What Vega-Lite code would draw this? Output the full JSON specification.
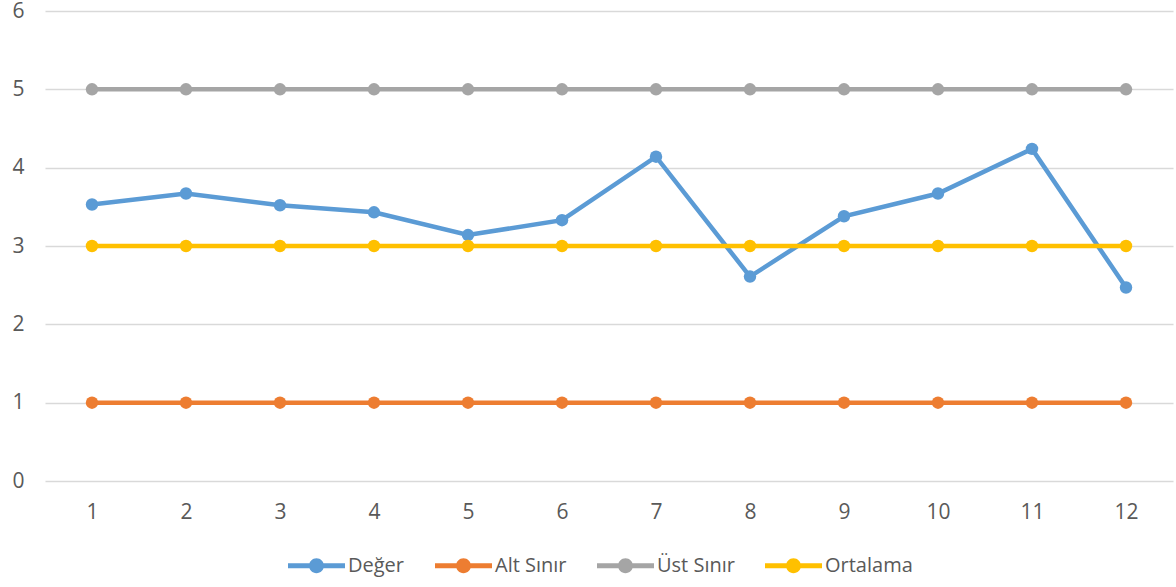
{
  "$schema": "https://vega.github.io/schema/vega-lite/v6.json",
  "width": 1128,
  "height": 470,
  "autosize": "none",
  "padding": {"left": 45, "top": 11, "right": 3, "bottom": 106},
  "background": "white",
  "config": {
    "view": {"stroke": null},
    "font": "Open Sans",
    "axis": {"labelColor": "#595959", "labelFontSize": 21, "domain": false, "ticks": false, "title": null}
  },
  "data": {
    "values": [
      {"x": 1, "series": "Değer", "value": 3.53},
      {"x": 2, "series": "Değer", "value": 3.67},
      {"x": 3, "series": "Değer", "value": 3.52},
      {"x": 4, "series": "Değer", "value": 3.43},
      {"x": 5, "series": "Değer", "value": 3.14},
      {"x": 6, "series": "Değer", "value": 3.33},
      {"x": 7, "series": "Değer", "value": 4.14},
      {"x": 8, "series": "Değer", "value": 2.61},
      {"x": 9, "series": "Değer", "value": 3.38},
      {"x": 10, "series": "Değer", "value": 3.67},
      {"x": 11, "series": "Değer", "value": 4.24},
      {"x": 12, "series": "Değer", "value": 2.47},
      {"x": 1, "series": "Alt Sınır", "value": 1},
      {"x": 2, "series": "Alt Sınır", "value": 1},
      {"x": 3, "series": "Alt Sınır", "value": 1},
      {"x": 4, "series": "Alt Sınır", "value": 1},
      {"x": 5, "series": "Alt Sınır", "value": 1},
      {"x": 6, "series": "Alt Sınır", "value": 1},
      {"x": 7, "series": "Alt Sınır", "value": 1},
      {"x": 8, "series": "Alt Sınır", "value": 1},
      {"x": 9, "series": "Alt Sınır", "value": 1},
      {"x": 10, "series": "Alt Sınır", "value": 1},
      {"x": 11, "series": "Alt Sınır", "value": 1},
      {"x": 12, "series": "Alt Sınır", "value": 1},
      {"x": 1, "series": "Üst Sınır", "value": 5},
      {"x": 2, "series": "Üst Sınır", "value": 5},
      {"x": 3, "series": "Üst Sınır", "value": 5},
      {"x": 4, "series": "Üst Sınır", "value": 5},
      {"x": 5, "series": "Üst Sınır", "value": 5},
      {"x": 6, "series": "Üst Sınır", "value": 5},
      {"x": 7, "series": "Üst Sınır", "value": 5},
      {"x": 8, "series": "Üst Sınır", "value": 5},
      {"x": 9, "series": "Üst Sınır", "value": 5},
      {"x": 10, "series": "Üst Sınır", "value": 5},
      {"x": 11, "series": "Üst Sınır", "value": 5},
      {"x": 12, "series": "Üst Sınır", "value": 5},
      {"x": 1, "series": "Ortalama", "value": 3},
      {"x": 2, "series": "Ortalama", "value": 3},
      {"x": 3, "series": "Ortalama", "value": 3},
      {"x": 4, "series": "Ortalama", "value": 3},
      {"x": 5, "series": "Ortalama", "value": 3},
      {"x": 6, "series": "Ortalama", "value": 3},
      {"x": 7, "series": "Ortalama", "value": 3},
      {"x": 8, "series": "Ortalama", "value": 3},
      {"x": 9, "series": "Ortalama", "value": 3},
      {"x": 10, "series": "Ortalama", "value": 3},
      {"x": 11, "series": "Ortalama", "value": 3},
      {"x": 12, "series": "Ortalama", "value": 3}
    ]
  },
  "encoding": {
    "x": {
      "field": "x", "type": "ordinal",
      "scale": {"type": "point", "padding": 0.5},
      "axis": {"labelAngle": 0, "grid": false, "labelPadding": 20, "labelFontSize": 21}
    },
    "y": {
      "field": "value", "type": "quantitative",
      "scale": {"domain": [0, 6], "nice": false, "zero": true},
      "axis": {"values": [0, 1, 2, 3, 4, 5, 6], "grid": true, "gridColor": "#D9D9D9", "gridWidth": 1.5, "labelPadding": 21, "labelFontSize": 21}
    },
    "color": {
      "field": "series", "type": "nominal",
      "scale": {"domain": ["Değer", "Alt Sınır", "Üst Sınır", "Ortalama"], "range": ["#5B9BD5", "#ED7D31", "#A5A5A5", "#FFC000"]},
      "sort": ["Değer", "Alt Sınır", "Üst Sınır", "Ortalama"],
      "legend": {
        "title": null,
        "orient": "none",
        "direction": "horizontal",
        "legendX": 243,
        "legendY": 526,
        "symbolType": "M-1,-0.088 L1,-0.088 L1,0.088 L-1,0.088 Z M-0.26,0 A0.26,0.26 0 1,1 0.26,0 A0.26,0.26 0 1,1 -0.26,0 Z",
        "symbolSize": 3249,
        "symbolStrokeWidth": 0,
        "labelFontSize": 20,
        "labelColor": "#595959",
        "labelOffset": 3,
        "columnPadding": 30,
        "encode": {"symbols": {"update": {"fill": {"scale": "color", "field": "value"}, "stroke": {"value": "transparent"}, "opacity": {"value": 1}}}}
      }
    }
  },
  "layer": [
    {"mark": {"type": "line", "strokeWidth": 4.5}},
    {"mark": {"type": "point", "filled": true, "size": 155, "opacity": 1}}
  ]
}
